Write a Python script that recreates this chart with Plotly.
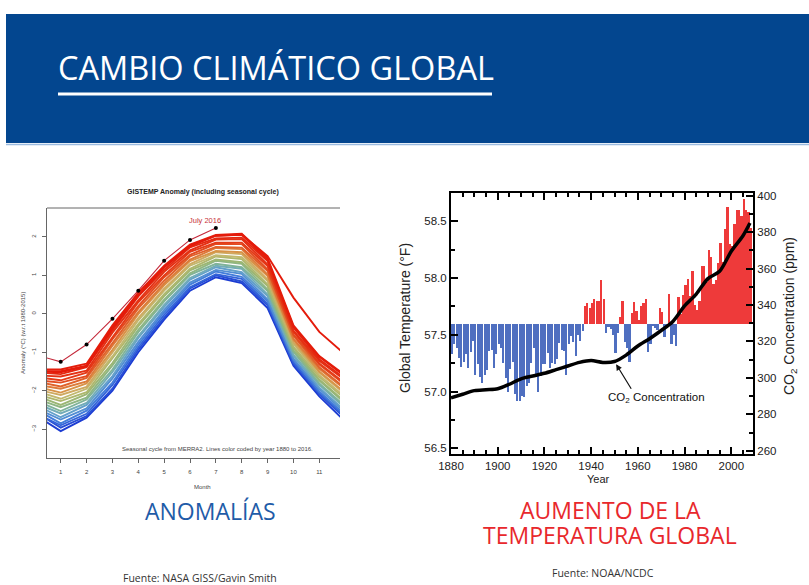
import plotly.graph_objects as go
from plotly.colors import sample_colorscale

W, H = 809, 585

# ---------------- GISTEMP seasonal anomaly curves (°C) ----------------
# month 0 is December of the previous year
months = list(range(13))
curve_years = [1880, 1885, 1891, 1898, 1904, 1911, 1918, 1925, 1932, 1938, 1945,
               1952, 1959, 1966, 1972, 1979, 1986, 1993, 2000, 2006, 2012, 2014, 2015]
curves = [
    [-2.62, -3.05, -2.70, -2.00, -1.00, -0.15, 0.60, 0.95, 0.80, 0.15, -1.35, -2.15, -2.80],
    [-2.55, -2.96, -2.66, -1.95, -0.93, -0.10, 0.66, 1.00, 0.84, 0.22, -1.30, -2.09, -2.72],
    [-2.58, -2.90, -2.60, -1.85, -0.87, -0.03, 0.69, 1.03, 0.91, 0.26, -1.26, -2.06, -2.67],
    [-2.47, -2.85, -2.52, -1.79, -0.80, 0.04, 0.76, 1.10, 0.96, 0.33, -1.20, -2.02, -2.63],
    [-2.44, -2.75, -2.46, -1.68, -0.73, 0.10, 0.81, 1.14, 1.04, 0.37, -1.17, -1.95, -2.57],
    [-2.36, -2.69, -2.37, -1.62, -0.63, 0.18, 0.89, 1.21, 1.08, 0.46, -1.10, -1.92, -2.53],
    [-2.32, -2.59, -2.32, -1.51, -0.58, 0.23, 0.93, 1.25, 1.17, 0.50, -1.07, -1.85, -2.45],
    [-2.24, -2.53, -2.23, -1.45, -0.48, 0.32, 1.01, 1.30, 1.21, 0.59, -0.99, -1.81, -2.41],
    [-2.20, -2.43, -2.18, -1.34, -0.42, 0.37, 1.05, 1.38, 1.30, 0.63, -0.96, -1.74, -2.33],
    [-2.12, -2.37, -2.09, -1.28, -0.32, 0.46, 1.13, 1.41, 1.34, 0.72, -0.89, -1.71, -2.29],
    [-2.08, -2.27, -2.04, -1.17, -0.27, 0.51, 1.17, 1.49, 1.42, 0.76, -0.86, -1.64, -2.21],
    [-2.00, -2.21, -1.95, -1.11, -0.17, 0.60, 1.25, 1.52, 1.47, 0.85, -0.78, -1.60, -2.17],
    [-1.96, -2.11, -1.90, -1.00, -0.11, 0.65, 1.29, 1.60, 1.55, 0.89, -0.75, -1.53, -2.09],
    [-1.88, -2.05, -1.81, -0.94, -0.01, 0.74, 1.37, 1.63, 1.60, 0.98, -0.68, -1.50, -2.05],
    [-1.84, -1.95, -1.76, -0.83, 0.04, 0.79, 1.41, 1.71, 1.68, 1.02, -0.65, -1.43, -1.97],
    [-1.76, -1.89, -1.67, -0.77, 0.14, 0.86, 1.49, 1.74, 1.72, 1.11, -0.57, -1.39, -1.93],
    [-1.72, -1.79, -1.62, -0.66, 0.20, 0.95, 1.53, 1.82, 1.81, 1.15, -0.54, -1.32, -1.85],
    [-1.64, -1.73, -1.53, -0.60, 0.30, 1.00, 1.61, 1.85, 1.85, 1.24, -0.47, -1.29, -1.81],
    [-1.60, -1.63, -1.48, -0.49, 0.35, 1.09, 1.65, 1.93, 1.94, 1.28, -0.44, -1.22, -1.73],
    [-1.52, -1.57, -1.39, -0.43, 0.45, 1.14, 1.73, 1.96, 1.98, 1.37, -0.36, -1.18, -1.69],
    [-1.50, -1.49, -1.35, -0.34, 0.49, 1.22, 1.75, 2.03, 2.05, 1.40, -0.34, -1.12, -1.63],
    [-1.45, -1.45, -1.30, -0.30, 0.55, 1.25, 1.80, 2.05, 2.08, 1.45, -0.30, -1.10, -1.60],
    [-1.50, -1.52, -1.36, -0.38, 0.48, 1.20, 1.78, 2.03, 2.06, 1.50, 0.42, -0.47, -1.06],
]
months_2016 = [0, 1, 2, 3, 4, 5, 6, 7]
anom_2016 = [-1.06, -1.25, -0.80, -0.13, 0.60, 1.38, 1.92, 2.23]
month_ticks = list(range(1, 13))
anom_ticks = [-3, -2, -1, 0, 1, 2]

# ---------------- NOAA global temperature and CO2 ----------------
years = list(range(1880, 2009))
temp_f = [
    57.33, 57.42, 57.38, 57.30, 57.22, 57.26, 57.33, 57.21, 57.35, 57.45,
    57.15, 57.24, 57.13, 57.08, 57.15, 57.19, 57.36, 57.37, 57.21, 57.33,
    57.42, 57.38, 57.25, 57.12, 57.00, 57.20, 57.26, 56.98, 56.92, 56.92,
    56.96, 56.95, 57.05, 57.08, 57.25, 57.38, 57.15, 57.00, 57.14, 57.24,
    57.24, 57.34, 57.21, 57.25, 57.24, 57.29, 57.43, 57.37, 57.36, 57.15,
    57.42, 57.49, 57.44, 57.31, 57.50, 57.45, 57.53, 57.75, 57.78, 57.74,
    57.78, 57.82, 57.80, 57.80, 57.98, 57.82, 57.52, 57.57, 57.55, 57.50,
    57.34, 57.52, 57.66, 57.80, 57.44, 57.38, 57.26, 57.69, 57.79, 57.71,
    57.63, 57.75, 57.78, 57.82, 57.35, 57.42, 57.58, 57.56, 57.54, 57.74,
    57.70, 57.48, 57.58, 57.86, 57.42, 57.50, 57.40, 57.83, 57.68, 57.85,
    57.94, 57.99, 57.84, 58.06, 57.76, 57.72, 57.80, 58.11, 58.11, 57.97,
    58.25, 58.19, 57.95, 57.98, 58.13, 58.31, 58.14, 58.43, 58.63, 58.30,
    58.28, 58.48, 58.60, 58.60, 58.55, 58.70, 58.60, 58.58, 58.44,
]
BASELINE_F = 57.6
co2_years = [1880, 1885, 1890, 1895, 1900, 1905, 1910, 1915, 1920, 1925, 1930, 1935,
             1940, 1945, 1950, 1955, 1960, 1965, 1970, 1975, 1980, 1985, 1990, 1995,
             2000, 2005, 2008]
co2_ppm = [289, 291, 293, 293.5, 294, 296.5, 299.5, 301, 302.5, 304.5, 306.5, 308.5,
           309.5, 308.5, 309, 312.5, 317.5, 321.5, 326, 331, 339.5, 346, 354.5, 358.5,
           369.5, 378, 385]
year_ticks = [1880, 1900, 1920, 1940, 1960, 1980, 2000]
temp_ticks = [56.5, 57.0, 57.5, 58.0, 58.5]
co2_ticks = [260, 280, 300, 320, 340, 360, 380, 400]


def fx(x):
    return x / W


def fy(y):
    return 1 - y / H


year_scale = [[0.0, "#1c3cd2"], [0.12, "#3f78dc"], [0.25, "#6aa8c8"], [0.35, "#84b68e"],
              [0.45, "#a4b66c"], [0.55, "#c8b870"], [0.63, "#d89448"], [0.72, "#e0642c"],
              [0.82, "#e43c18"], [1.0, "#e41a0a"]]
line_colors = sample_colorscale(year_scale, [(y - 1880) / 136 for y in curve_years])

fig = go.Figure()

for yr, vals, col in zip(curve_years, curves, line_colors):
    fig.add_trace(go.Scatter(x=months, y=vals, mode="lines", name=str(yr),
                             line=dict(color=col, width=1.9), xaxis="x", yaxis="y"))

fig.add_trace(go.Scatter(x=months_2016, y=anom_2016, mode="lines", name="2016",
                         line=dict(color="#c4283a", width=1.1), xaxis="x", yaxis="y"))
fig.add_trace(go.Scatter(x=months_2016[1:], y=anom_2016[1:], mode="markers",
                         marker=dict(color="black", size=4), xaxis="x", yaxis="y"))

# temperature bars around the baseline
bar_colors = ["#ee3a3a" if t >= BASELINE_F else "#4f6fc0" for t in temp_f]
fig.add_trace(go.Bar(x=years, y=[t - BASELINE_F for t in temp_f], base=BASELINE_F,
                     offset=0.14, width=0.72, marker=dict(color=bar_colors, line=dict(width=0)),
                     xaxis="x2", yaxis="y2"))
fig.add_trace(go.Scatter(x=co2_years, y=co2_ppm, mode="lines",
                         line=dict(color="black", width=3.5, shape="spline", smoothing=0.8),
                         xaxis="x2", yaxis="y3"))

small = dict(family="Liberation Sans, Arial, sans-serif", size=6, color="#444")
axfont = dict(family="Liberation Sans, Arial, sans-serif", size=11.5, color="#222")

fig.update_layout(
    width=W, height=H, autosize=False, margin=dict(l=0, r=0, t=0, b=0, pad=0, autoexpand=False),
    paper_bgcolor="white", plot_bgcolor="rgba(0,0,0,0)", showlegend=False,
    bargap=0,
    xaxis=dict(domain=[fx(47), fx(340)], range=[0.47, 11.8], anchor="y", automargin=False,
               tickvals=month_ticks, ticks="outside", ticklen=4, tickcolor="#666",
               showline=True, linecolor="#666", linewidth=1, showgrid=False, zeroline=False,
               tickfont=small, ticklabelstandoff=4),
    yaxis=dict(domain=[fy(458), fy(208)], range=[-3.75, 2.75], anchor="x", automargin=False,
               tickvals=anom_ticks, tickangle=-90, ticks="outside", ticklen=4, tickcolor="#666",
               showline=True, linecolor="#666", linewidth=1, showgrid=False, zeroline=False,
               tickfont=small, ticklabelstandoff=4),
    xaxis2=dict(domain=[fx(451), fx(753)], range=[1880, 2009.3], anchor="y2", automargin=False,
                tickvals=year_ticks, ticks="inside", ticklen=7, tickwidth=1.5, tickcolor="black",
                minor=dict(dtick=5, tick0=1880, ticks="inside", ticklen=4, tickwidth=1.5,
                           tickcolor="black"),
                showline=True, linecolor="black", linewidth=2, mirror="ticks",
                showgrid=False, zeroline=False, tickfont=axfont),
    yaxis2=dict(domain=[fy(454), fy(193)], range=[56.45, 58.75], anchor="x2", automargin=False,
                tickvals=temp_ticks, ticktext=[f"{v:.1f}" for v in temp_ticks],
                ticks="inside", ticklen=7, tickwidth=1.5, tickcolor="black",
                minor=dict(dtick=0.25, tick0=56.5, ticks="inside", ticklen=4, tickwidth=1.5,
                           tickcolor="black"),
                showline=True, linecolor="black", linewidth=2,
                showgrid=False, zeroline=False, tickfont=axfont),
    yaxis3=dict(overlaying="y2", side="right", range=[258.2, 401.5], anchor="x2",
                automargin=False,
                tickvals=co2_ticks, ticks="inside", ticklen=7, tickwidth=1.5, tickcolor="black",
                minor=dict(dtick=10, tick0=260, ticks="inside", ticklen=4, tickwidth=1.5,
                           tickcolor="black"),
                showline=True, linecolor="black", linewidth=2,
                showgrid=False, zeroline=False, tickfont=axfont),
)

shapes = [
    # header band
    dict(type="rect", xref="paper", yref="paper", x0=fx(6), x1=1, y0=fy(143), y1=fy(14),
         fillcolor="#03468f", line=dict(width=0), layer="below"),
    dict(type="line", xref="paper", yref="paper", x0=fx(6), x1=1, y0=fy(144.5), y1=fy(144.5),
         line=dict(color="#9bbbe0", width=1.5)),
    # title underline
    dict(type="line", xref="paper", yref="paper", x0=fx(58), x1=fx(492), y0=fy(94), y1=fy(94),
         line=dict(color="white", width=3)),
    # top edge of the anomaly plot frame
    dict(type="line", xref="paper", yref="paper", x0=fx(47), x1=fx(340), y0=fy(208), y1=fy(208),
         line=dict(color="#666", width=1)),
]

annotations = [
    dict(text="CAMBIO CLIMÁTICO GLOBAL", x=fx(56), y=fy(67), xanchor="left",
         font=dict(family="Open Sans, sans-serif", size=32.5, color="white")),
    dict(text="<b>GISTEMP Anomaly (including seasonal cycle)</b>", x=fx(203), y=fy(192),
         font=dict(family="Liberation Sans, Arial, sans-serif", size=7, color="#222")),
    dict(text="July 2016", x=fx(205), y=fy(220),
         font=dict(family="Liberation Sans, Arial, sans-serif", size=7.5, color="#c8323c")),
    dict(text="Seasonal cycle from MERRA2. Lines color coded by year 1880 to 2016.",
         x=fx(217), y=fy(449), font=small),
    dict(text="Month", x=fx(202), y=fy(487), font=small),
    dict(text="Anomaly (°C) (w.r.t 1980-2015)", x=fx(23), y=fy(333), textangle=-90, font=small),
    dict(text="Global Temperature (°F)", x=fx(405), y=fy(318), textangle=-90,
         font=dict(family="Liberation Sans, Arial, sans-serif", size=14, color="#222")),
    dict(text="CO<sub>2</sub> Concentration (ppm)", x=fx(790), y=fy(316), textangle=-90,
         font=dict(family="Liberation Sans, Arial, sans-serif", size=14, color="#222")),
    dict(text="Year", x=fx(598), y=fy(479),
         font=dict(family="Liberation Sans, Arial, sans-serif", size=11, color="#222")),
    dict(text="CO<sub>2</sub> Concentration", x=fx(656), y=fy(398),
         font=dict(family="Liberation Sans, Arial, sans-serif", size=11.5, color="#111")),
    dict(text="", x=1950.7, y=307.5, xref="x2", yref="y3", showarrow=True, arrowhead=2,
         arrowsize=1, arrowwidth=1.2, arrowcolor="#111", ax=16, ay=26),
    dict(text="ANOMALÍAS", x=fx(211), y=fy(511),
         font=dict(family="Open Sans, sans-serif", size=23, color="#1f5ca8")),
    dict(text="AUMENTO DE LA", x=fx(610), y=fy(510),
         font=dict(family="Open Sans, sans-serif", size=23, color="#e8282c")),
    dict(text="TEMPERATURA GLOBAL", x=fx(610), y=fy(535),
         font=dict(family="Open Sans, sans-serif", size=23, color="#e8282c")),
    dict(text="Fuente: NASA GISS/Gavin Smith", x=fx(200), y=fy(578),
         font=dict(family="Open Sans, sans-serif", size=10.5, color="#333")),
    dict(text="Fuente: NOAA/NCDC", x=fx(603), y=fy(573),
         font=dict(family="Open Sans, sans-serif", size=10.5, color="#333")),
]
for a in annotations:
    a.setdefault("xref", "paper")
    a.setdefault("yref", "paper")
    a.setdefault("showarrow", False)
    a.setdefault("xanchor", "center")
    a.setdefault("yanchor", "middle")

fig.update_layout(shapes=shapes, annotations=annotations)
fig.write_html("out.html")
